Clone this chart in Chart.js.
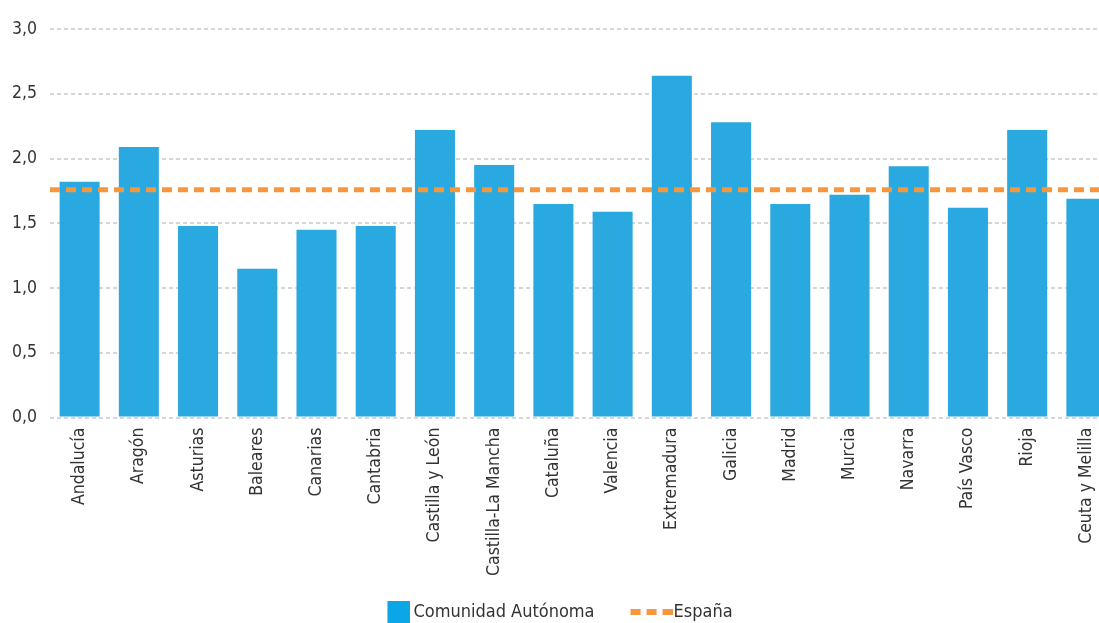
<!DOCTYPE html>
<html>
<head>
<meta charset="utf-8">
<script src="https://cdn.jsdelivr.net/npm/chart.js@4/dist/chart.umd.min.js"></script>
<style>
  html, body { margin: 0; padding: 0; background: #fff; overflow: hidden; }
  #wrap { width: 1120px; height: 623px; }
</style>
</head>
<body>
<div id="wrap"><canvas id="grafico" width="1120" height="623"></canvas></div>
<script>
// datos
const comunidades = ['Andalucía', 'Aragón', 'Asturias', 'Baleares', 'Canarias', 'Cantabria',
  'Castilla y León', 'Castilla-La Mancha', 'Cataluña', 'Valencia', 'Extremadura', 'Galicia',
  'Madrid', 'Murcia', 'Navarra', 'País Vasco', 'Rioja', 'Ceuta y Melilla'];
const valoresCA = [1.82, 2.09, 1.48, 1.15, 1.45, 1.48, 2.22, 1.95, 1.65, 1.59, 2.64, 2.28,
  1.65, 1.72, 1.94, 1.62, 2.22, 1.69];
const valorEspana = 1.76;
const ticksY = [0, 0.5, 1, 1.5, 2, 2.5, 3];

const fuente = '"Liberation Sans Narrow", "DejaVu Sans Condensed", sans-serif';
const azul = '#29a9e0';
const naranja = '#f7963d';

// la línea de España ocupa todo el ancho del área
const lineaEspana = [
  { x: -0.5, y: valorEspana },
  { x: comunidades.length - 0.5, y: valorEspana }
];

// marcas de la leyenda (se dibujan centradas en la caja de 53px)
function marcaCuadrado() {
  const c = document.createElement('canvas');
  c.width = 65; c.height = 23;
  const g = c.getContext('2d');
  g.fillStyle = '#0aa6e6';
  g.fillRect(42, 0, 23, 23);
  return c;
}
function marcaLinea() {
  const c = document.createElement('canvas');
  c.width = 69; c.height = 6;
  const g = c.getContext('2d');
  g.fillStyle = naranja;
  [27, 43, 59].forEach(x => g.fillRect(x, 0, 10, 6));
  return c;
}

const ctx = document.getElementById('grafico').getContext('2d');
new Chart(ctx, {
  type: 'bar',
  data: {
    labels: comunidades,
    datasets: [{
      label: 'Comunidad Autónoma',
      data: valoresCA,
      backgroundColor: azul,
      grouped: false,
      barPercentage: 0.676,
      categoryPercentage: 1,
      order: 1
    }, {
      type: 'line',
      label: 'España',
      data: lineaEspana,
      xAxisID: 'x2',
      borderColor: naranja,
      backgroundColor: naranja,
      borderWidth: 5,
      borderDash: [10, 6],
      pointRadius: 0,
      fill: false,
      order: 0
    }]
  },
  options: {
    responsive: false,
    animation: false,
    layout: { padding: { left: -32, right: 4, top: 29, bottom: -8 } },
    plugins: {
      tooltip: { enabled: false },
      legend: {
        position: 'bottom',
        labels: {
          usePointStyle: true,
          pointStyleWidth: 53,
          font: { family: fuente, size: 18 },
          color: '#333',
          padding: 17,
          sort: (a, b) => a.datasetIndex - b.datasetIndex,
          generateLabels: chart => {
            const items = Chart.defaults.plugins.legend.labels.generateLabels(chart);
            items.forEach(it => {
              it.pointStyle = it.datasetIndex === 0 ? marcaCuadrado() : marcaLinea();
            });
            return items;
          }
        }
      }
    },
    scales: {
      x: {
        offset: true,
        grid: { display: false, drawTicks: false },
        border: { display: false },
        ticks: {
          padding: 10,
          minRotation: 90,
          maxRotation: 90,
          autoSkip: false,
          color: '#333',
          font: { family: fuente, size: 17.5 }
        }
      },
      x2: {
        type: 'linear',
        display: false,
        offset: false,
        min: -0.5,
        max: comunidades.length - 0.5
      },
      y: {
        min: 0,
        max: 3,
        afterBuildTicks: axis => { axis.ticks = ticksY.map(v => ({ value: v })); },
        afterFit: axis => { axis.width = 82; },
        border: { display: false, dash: [4, 3] },
        grid: { color: '#d6d6d6', lineWidth: 2, drawTicks: false },
        ticks: {
          padding: 13,
          color: '#333',
          font: { family: fuente, size: 17.5 },
          callback: v => v.toFixed(1).replace('.', ',')
        }
      }
    }
  }
});
</script>
</body>
</html>
